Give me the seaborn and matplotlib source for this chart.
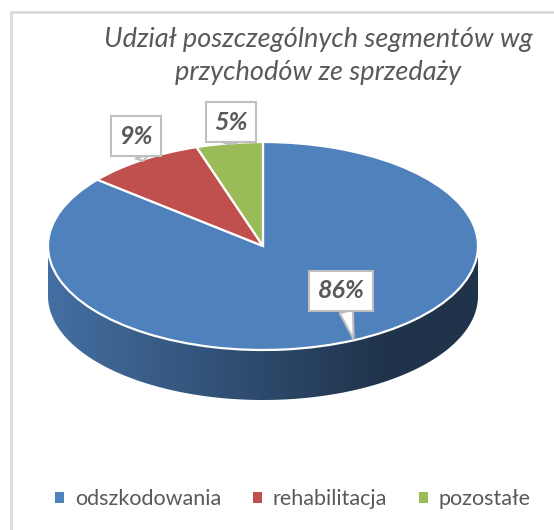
import numpy as np
import matplotlib
matplotlib.use("Agg")
import matplotlib.pyplot as plt
import seaborn as sns
from matplotlib.colors import LinearSegmentedColormap, to_rgb
from matplotlib.patches import Polygon, Rectangle
from matplotlib.lines import Line2D

# data
segments = ["odszkodowania", "rehabilitacja", "pozostałe"]
shares = [86, 9, 5]
colors = ["#4F81BD", "#C0504D", "#9BBB59"]
title = "Udział poszczególnych segmentów wg\nprzychodów ze sprzedaży"

sns.set_style("white")
plt.rcParams["font.family"] = ["Lato", "DejaVu Sans"]
grey = "#595959"

W, H = 554, 530
fig = plt.figure(figsize=(W / 100, H / 100), dpi=100)
ax = fig.add_axes([0, 0, 1, 1])

k = 104 / 215  # squash of the top face


def px(x, y):
    # image pixel -> data coords
    return x, (H - y) / k


cx, cy = px(263, 246)
r = 215
depth = 50 / k

wedges, _ = ax.pie(shares, colors=colors, startangle=90, counterclock=False,
                   center=(cx, cy), radius=r, frame=True,
                   wedgeprops=dict(edgecolor="white", linewidth=1.6, zorder=3))

# side wall of the disc (front half only)
for w, c in zip(wedges, colors):
    t1, t2 = w.theta1, w.theta2
    for off in (-720, -360, 0):
        lo, hi = max(t1, 180 + off), min(t2, 360 + off)
        if hi <= lo:
            continue
        th = np.radians(np.linspace(lo, hi, 120))
        xs = cx + r * np.cos(th)
        ys = cy + r * np.sin(th)
        pts = np.column_stack([np.r_[xs, xs[::-1]], np.r_[ys, ys[::-1] - depth]])
        poly = Polygon(pts, closed=True, fc="none", ec="none")
        ax.add_patch(poly)
        base = np.array(to_rgb(c))
        cmap = LinearSegmentedColormap.from_list(
            "side", [(0, base * 0.86), (0.78, base * 0.40), (1, base * 0.40)])
        grad = np.linspace(0, 1, 256).reshape(1, -1)
        im = ax.imshow(grad, cmap=cmap, aspect="auto", zorder=2,
                       extent=(cx - r, cx + r, cy - r - depth, cy + r))
        im.set_clip_path(poly)

# callout labels
label_pos = [px(341, 291), px(136, 136), px(231, 122)]
for w, s, pos in zip(wedges, shares, label_pos):
    mid = np.radians((w.theta1 + w.theta2) / 2)
    tip = (cx + r * 0.99 * np.cos(mid), cy + r * 0.99 * np.sin(mid))
    ax.annotate(f"{s}%", xy=tip, xytext=pos, ha="center", va="center",
                fontsize=18, fontweight="bold", style="italic", color=grey,
                zorder=6,
                bbox=dict(boxstyle="square,pad=0.33", fc="white", ec="#BFBFBF", lw=1.5),
                arrowprops=dict(arrowstyle="wedge,tail_width=0.55,shrink_factor=0.5",
                                fc="white", ec="#BFBFBF", lw=1.5,
                                shrinkA=0, shrinkB=0))

ax.set_xlim(0, W)
ax.set_ylim(0, H / k)
ax.set_aspect("auto")
ax.axis("off")

fig.text(318 / W, 1 - 56 / H, title, ha="center", va="center", style="italic",
         fontsize=19.5, color=grey, linespacing=1.4)

handles = [Rectangle((0, 0), 1, 1, fc=c, ec="none") for c in colors]
fig.legend(handles, segments, loc="center", bbox_to_anchor=(293 / W, 1 - 499 / H),
           ncol=3, frameon=False, fontsize=15.5, labelcolor=grey,
           handlelength=0.4, handleheight=0.4, handletextpad=0.5, columnspacing=1.5)

# chart area border (extends past the right and bottom edges)
fig.add_artist(Line2D([11 / W, 11 / W], [0, 1 - 12 / H], color="#D9D9D9", lw=2))
fig.add_artist(Line2D([11 / W, 1], [1 - 12 / H, 1 - 12 / H], color="#D9D9D9", lw=2))

fig.savefig("out.png", dpi=100)
